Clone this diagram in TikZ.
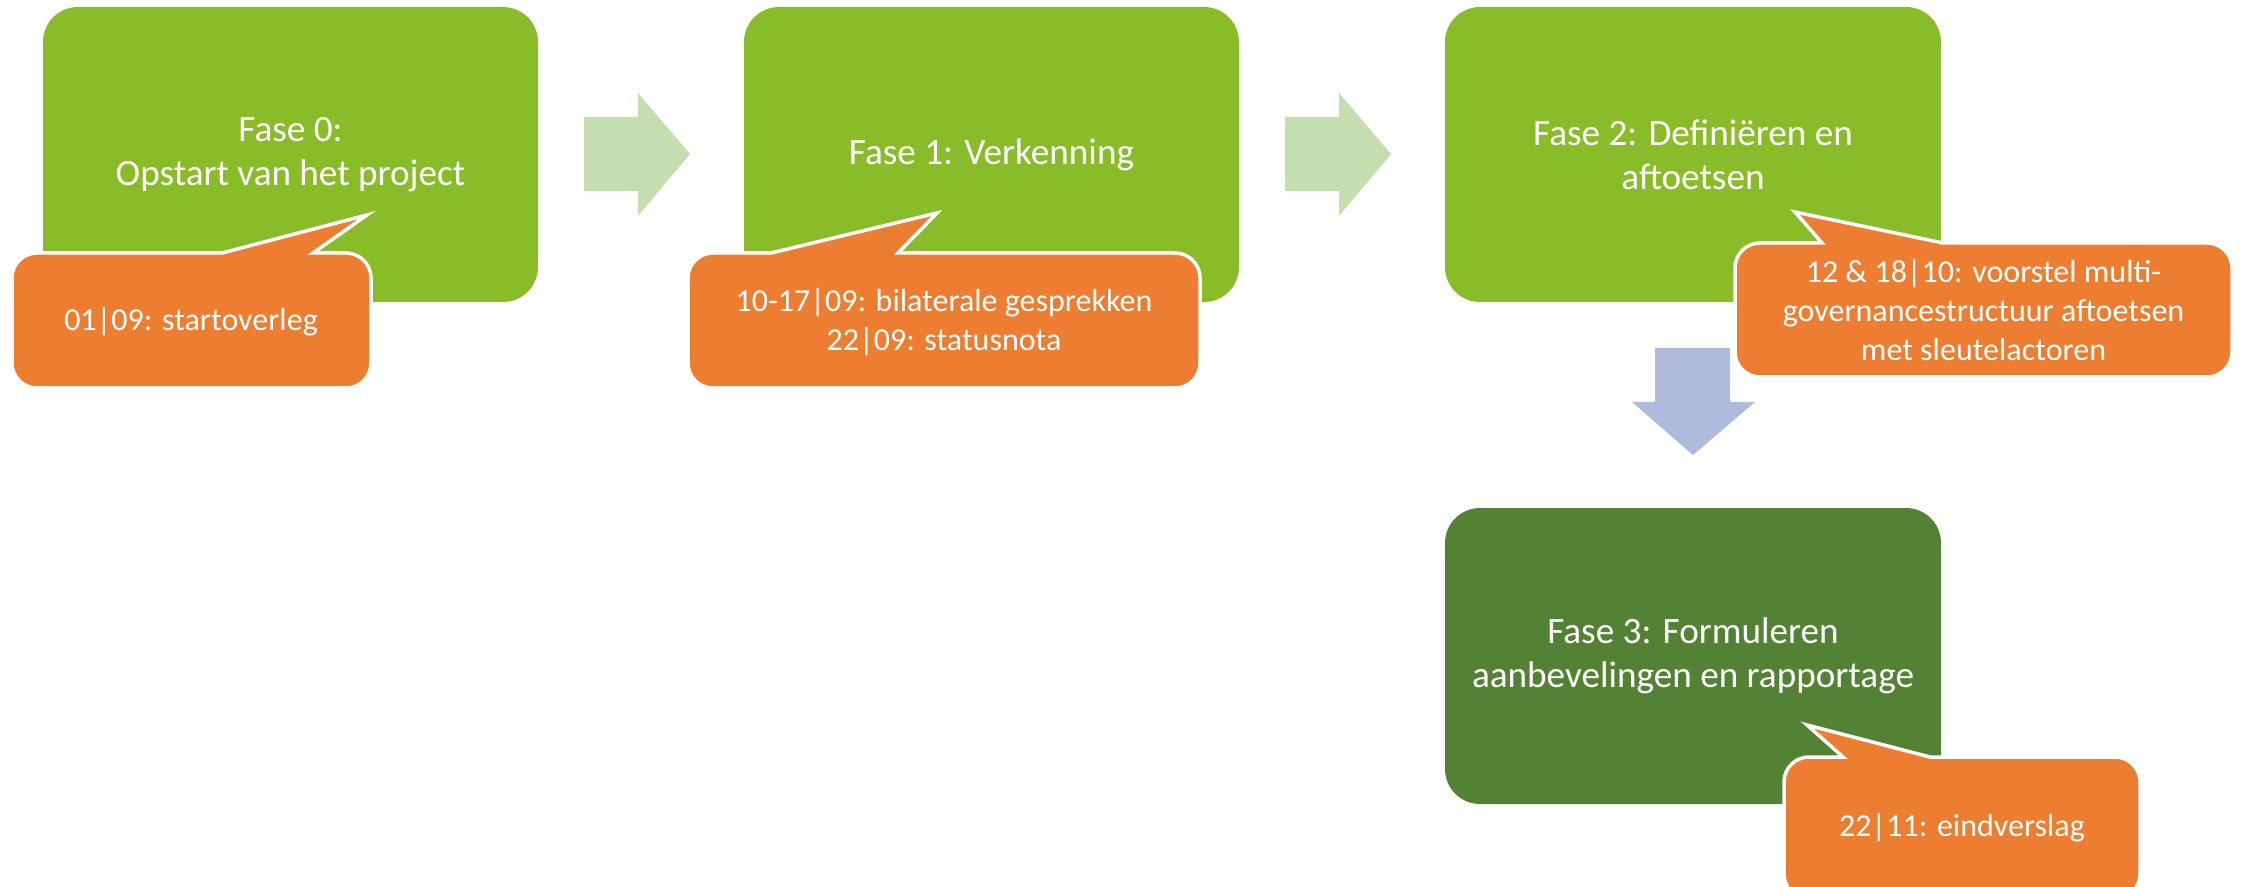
\documentclass[tikz,border=0pt]{standalone}
\usepackage{fontspec}
\setmainfont{Carlito}
\begin{document}
% Units: one unit = 0.5pt, y axis pointing down
\begin{tikzpicture}[x=0.5pt,y=-0.5pt]
\definecolor{fasegreen}{HTML}{89BC29}
\definecolor{fasedark}{HTML}{548235}
\definecolor{calloutorange}{HTML}{ED7D31}
\definecolor{flowgreen}{HTML}{C5DEB0}
\definecolor{flowblue}{HTML}{AEBBDD}
\tikzset{
  phasebox/.style={draw=none, rounded corners=17.5pt},
  phasetext/.style={text=white, align=center, inner sep=0pt,
    font=\fontsize{18.6}{22}\selectfont},
  calltext/.style={text=white, align=center, inner sep=0pt,
    font=\fontsize{16}{19.5}\selectfont},
  callshape/.style={fill=calloutorange, draw=white, line width=1.75pt, line join=miter},
  flowright/.style={fill=flowgreen, draw=none},
  flowdown/.style={fill=flowblue, draw=none},
}
\useasboundingbox (0,0) rectangle (2243,887);

% phase 0
\fill[fasegreen, phasebox] (43,7) rectangle (538,302);
\node[phasetext] (f0) at (290.5,155) {Fase 0:\\Opstart van het project};
\path[callshape] (37,253) -- (222,253) -- (367,215) -- (313,253) -- (346,253)
  arc[start angle=-90,end angle=0,radius=25] -- (371,363)
  arc[start angle=0,end angle=90,radius=25] -- (37,388)
  arc[start angle=90,end angle=180,radius=25] -- (12,278)
  arc[start angle=180,end angle=270,radius=25] -- cycle;
\node[calltext] (c0) at (191,322) {01|09: startoverleg};

% arrow 0 -> 1
\fill[flowright] (584,117) -- (638,117) -- (638,93) -- (690,154) -- (638,216) -- (638,191) -- (584,191) -- cycle;

% phase 1
\fill[fasegreen, phasebox] (744,7) rectangle (1239,302);
\node[phasetext] (f1) at (991.5,155) {Fase 1: Verkenning};
\path[callshape] (713,253) -- (771,253) -- (937,213) -- (898,253) -- (1175,253)
  arc[start angle=-90,end angle=0,radius=25] -- (1200,363)
  arc[start angle=0,end angle=90,radius=25] -- (713,388)
  arc[start angle=90,end angle=180,radius=25] -- (688,278)
  arc[start angle=180,end angle=270,radius=25] -- cycle;
\node[calltext] (c1) at (944,322) {10-17|09: bilaterale gesprekken\\22|09: statusnota};

% arrow 1 -> 2
\fill[flowright] (1285,117) -- (1339,117) -- (1339,93) -- (1391,154) -- (1339,216) -- (1339,191) -- (1285,191) -- cycle;

% phase 2
\fill[fasegreen, phasebox] (1445,7) rectangle (1941,302);
\node[phasetext] (f2) at (1693,155) {Fase 2: Definiëren en\\aftoetsen};
\path[callshape] (1760,243) -- (1822,243) -- (1795,212) -- (1943,243) -- (2207,243)
  arc[start angle=-90,end angle=0,radius=25] -- (2232,352)
  arc[start angle=0,end angle=90,radius=25] -- (1760,377)
  arc[start angle=90,end angle=180,radius=25] -- (1735,268)
  arc[start angle=180,end angle=270,radius=25] -- cycle;
\node[calltext] (c2) at (1983.5,310) {12 \& 18|10: voorstel multi-\\governancestructuur aftoetsen\\met sleutelactoren};

% arrow 2 -> 3
\fill[flowdown] (1655,348) -- (1730,348) -- (1730,402) -- (1755,402) -- (1693,455) -- (1632,402) -- (1655,402) -- cycle;

% phase 3
\fill[fasedark, phasebox] (1445,508) rectangle (1941,804);
\node[phasetext] (f3) at (1693,656) {Fase 3: Formuleren\\aanbevelingen en rapportage};
\path[callshape] (1809,757) -- (1843,757) -- (1807,725) -- (1930,757) -- (2115,757)
  arc[start angle=-90,end angle=0,radius=25] -- (2140,874)
  arc[start angle=0,end angle=90,radius=25] -- (1809,899)
  arc[start angle=90,end angle=180,radius=25] -- (1784,782)
  arc[start angle=180,end angle=270,radius=25] -- cycle;
\node[calltext] (c3) at (1962,828) {22|11: eindverslag};
\end{tikzpicture}
\end{document}
